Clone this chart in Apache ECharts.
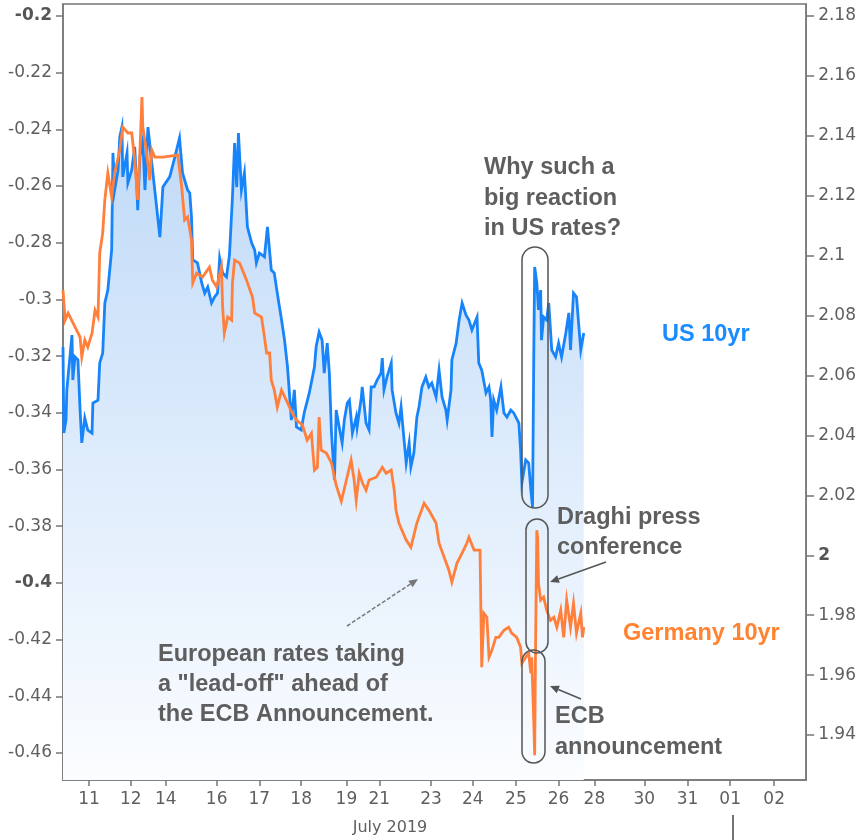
<!DOCTYPE html>
<html>
<head>
<meta charset="utf-8">
<script src="https://cdn.jsdelivr.net/npm/echarts@6/dist/echarts.min.js"></script>
<style>
html,body{margin:0;padding:0;background:#fff;}
#chart{width:859px;height:840px;}
</style>
</head>
<body>
<div id="chart"></div>
<script>
// x positions are in trading-day units from the left edge of the window
const xTickPos = [0.61,1.59,2.41,3.60,4.60,5.58,6.64,7.41,8.62,9.60,10.61,11.61,12.45,13.62,14.63,15.63,16.66];
const xTickLabels = ['11','12','14','16','17','18','19','21','23','24','25','26','28','30','31','01','02'];
const deTicks = [-0.46,-0.44,-0.42,-0.4,-0.38,-0.36,-0.34,-0.32,-0.3,-0.28,-0.26,-0.24,-0.22,-0.2];
const usTicks = [1.94,1.96,1.98,2,2.02,2.04,2.06,2.08,2.1,2.12,2.14,2.16,2.18];

const usPos = [0,0.02,0.07,0.09,0.21,0.23,0.28,0.35,0.40,0.44,0.51,0.58,0.68,0.70,0.82,0.86,0.93,0.98,1.05,1.14,
1.17,1.21,1.29,1.33,1.38,1.40,1.50,1.52,1.61,1.68,1.73,1.75,1.80,1.87,1.92,1.99,2.08,2.15,2.27,2.34,
2.50,2.62,2.73,2.80,2.92,2.97,3.01,3.04,3.15,3.25,3.32,3.39,3.48,3.55,3.62,3.67,3.74,3.83,3.90,3.97,
4.02,4.07,4.11,4.18,4.25,4.32,4.42,4.49,4.53,4.60,4.72,4.79,4.88,4.95,5.02,5.12,5.19,5.26,5.35,5.42,
5.47,5.58,5.65,5.77,5.89,5.93,6.00,6.07,6.12,6.19,6.24,6.29,6.36,6.40,6.47,6.54,6.59,6.66,6.71,6.78,
6.87,6.89,6.99,7.01,7.10,7.17,7.22,7.29,7.36,7.45,7.48,7.52,7.59,7.69,7.71,7.80,7.87,7.92,7.99,8.04,
8.11,8.15,8.22,8.29,8.34,8.41,8.50,8.57,8.64,8.74,8.81,8.88,8.97,9.00,9.09,9.11,9.21,9.28,9.35,9.44,
9.51,9.58,9.70,9.74,9.81,9.91,9.98,10.02,10.05,10.09,10.16,10.26,10.33,10.40,10.49,10.56,10.68,10.72,10.75,10.84,
10.91,10.96,11.00,11.03,11.05,11.10,11.14,11.19,11.21,11.26,11.33,11.38,11.45,11.54,11.61,11.68,11.78,11.85,11.89,11.96,
12.03,12.13,12.20];
const usYield = [2.0695,2.0408,2.0451,2.0552,2.0735,2.0585,2.0662,2.0652,2.0485,2.0375,2.0458,2.0418,2.0408,2.0508,2.0518,2.0642,2.0675,2.0842,2.0885,2.1019,
2.1343,2.1219,2.1286,2.1396,2.1429,2.1263,2.1343,2.1243,2.1286,2.1363,2.1229,2.1152,2.1329,2.1386,2.1219,2.1429,2.1309,2.1219,2.1062,2.1229,
2.1263,2.1329,2.1393,2.1276,2.1219,2.1209,2.1129,2.0986,2.0976,2.0909,2.0875,2.0895,2.0842,2.0862,2.0875,2.0992,2.0942,2.0929,2.1002,2.1196,
2.1376,2.1229,2.1409,2.1219,2.1276,2.1096,2.1042,2.1019,2.0976,2.1009,2.0996,2.1096,2.0952,2.0942,2.0875,2.0785,2.0718,2.0628,2.0451,2.0552,
2.0428,2.0418,2.0475,2.0542,2.0628,2.0695,2.0745,2.0718,2.0608,2.0708,2.0608,2.0408,2.0251,2.0485,2.0428,2.0375,2.0451,2.0508,2.0518,2.0408,
2.0461,2.0428,2.0528,2.0562,2.0441,2.0418,2.0562,2.0562,2.0585,2.0608,2.0658,2.0552,2.0595,2.0642,2.0552,2.0475,2.0441,2.0495,2.0385,2.0308,
2.0375,2.0295,2.0341,2.0461,2.0495,2.0562,2.0595,2.0562,2.0575,2.0528,2.0618,2.0528,2.0485,2.0451,2.0552,2.0652,2.0708,2.0785,2.0842,2.0802,
2.0785,2.0752,2.0795,2.0642,2.0618,2.0542,2.0562,2.0518,2.0395,2.0518,2.0485,2.0562,2.0475,2.0461,2.0485,2.0475,2.0441,2.0351,2.0241,2.0318,
2.0308,2.0218,2.0161,2.0685,2.0962,2.0909,2.0819,2.0885,2.0718,2.0795,2.0785,2.0842,2.0685,2.0662,2.0708,2.0662,2.0742,2.0809,2.0685,2.0875,
2.0862,2.0685,2.0742];

const dePos = [0,0.05,0.12,0.40,0.44,0.51,0.58,0.68,0.75,0.82,0.86,0.93,0.98,1.05,1.14,1.21,1.33,1.40,1.52,1.61,
1.68,1.75,1.80,1.85,1.87,1.96,2.03,2.08,2.15,2.34,2.69,2.78,2.85,2.92,3.01,3.04,3.13,3.27,3.43,3.50,
3.60,3.71,3.74,3.78,3.86,3.95,3.97,4.02,4.14,4.30,4.44,4.49,4.65,4.72,4.77,4.84,4.88,4.95,5.02,5.12,
5.23,5.37,5.47,5.61,5.72,5.82,5.89,5.96,6.00,6.05,6.17,6.29,6.40,6.52,6.64,6.75,6.82,6.87,6.94,7.01,
7.10,7.17,7.34,7.48,7.57,7.69,7.76,7.80,7.87,7.94,8.04,8.15,8.29,8.46,8.57,8.74,8.81,8.93,9.04,9.11,
9.23,9.35,9.46,9.51,9.63,9.77,9.79,9.81,9.86,9.93,9.98,10.05,10.14,10.21,10.33,10.44,10.51,10.63,10.72,10.75,
10.84,10.91,10.96,10.98,11.03,11.05,11.07,11.10,11.12,11.14,11.19,11.26,11.33,11.42,11.50,11.57,11.66,11.73,11.80,11.89,
11.96,12.03,12.13,12.17,12.20];
const deYield = [-0.2967,-0.3073,-0.3048,-0.3133,-0.3203,-0.3143,-0.3168,-0.3119,-0.3038,-0.3062,-0.2836,-0.2766,-0.2649,-0.2554,-0.2639,-0.2554,-0.2473,-0.2392,-0.2413,-0.2413,
-0.2508,-0.2649,-0.2483,-0.2286,-0.2392,-0.2483,-0.2579,-0.2473,-0.2498,-0.2498,-0.2491,-0.2603,-0.2720,-0.2709,-0.2790,-0.2942,-0.2907,-0.2921,-0.2886,-0.2932,
-0.2956,-0.2886,-0.3027,-0.3119,-0.3062,-0.3073,-0.2942,-0.2861,-0.2872,-0.2932,-0.2992,-0.3048,-0.3062,-0.3133,-0.3189,-0.3189,-0.3285,-0.3320,-0.3380,-0.3320,
-0.3355,-0.3401,-0.3426,-0.3443,-0.3496,-0.3472,-0.3602,-0.3592,-0.3415,-0.3532,-0.3542,-0.3577,-0.3655,-0.3712,-0.3637,-0.3567,-0.3637,-0.3708,-0.3613,-0.3645,
-0.3673,-0.3637,-0.3627,-0.3592,-0.3613,-0.3602,-0.3673,-0.3743,-0.3789,-0.3814,-0.3849,-0.3874,-0.3789,-0.3719,-0.3743,-0.3789,-0.3860,-0.3909,-0.3955,-0.3997,
-0.3930,-0.3895,-0.3860,-0.3839,-0.3884,-0.3884,-0.4096,-0.4297,-0.4107,-0.4121,-0.4262,-0.4237,-0.4192,-0.4192,-0.4167,-0.4156,-0.4177,-0.4192,-0.4227,-0.4283,
-0.4262,-0.4248,-0.4319,-0.4262,-0.4495,-0.4608,-0.4237,-0.3814,-0.3839,-0.4001,-0.4061,-0.4050,-0.4096,-0.4132,-0.4121,-0.4156,-0.4096,-0.4192,-0.4061,-0.4156,
-0.4072,-0.4177,-0.4107,-0.4192,-0.4156];

const usData = usPos.map((p, i) => [p, usYield[i]]);
const deData = dePos.map((p, i) => [p, deYield[i]]);

const AXIS = '#777777';
const LABEL = '#5f5f5f';
const NOTE = '#5e5e5e';
const TICKFONT = 'DejaVu Sans';
const NOTEFONT = 'bold 23.5px "Liberation Sans", Arial, sans-serif';
const ZTOP = 100;

function fmt(v) { return String(parseFloat(Number(v).toFixed(2))); }

function arrow(x1, y1, x2, y2, color, dashed) {
  const a = Math.atan2(y2 - y1, x2 - x1), L = 9, W = 4;
  const bx = x2 - L * Math.cos(a), by = y2 - L * Math.sin(a);
  return [
    {type: 'line', silent: true, z: ZTOP, shape: {x1: x1, y1: y1, x2: bx, y2: by},
     style: {stroke: color, lineWidth: 1.5, lineDash: dashed ? [4, 2] : null}},
    {type: 'polygon', silent: true, z: ZTOP, shape: {points: [[x2, y2], [bx + W * Math.sin(a), by - W * Math.cos(a)], [bx - W * Math.sin(a), by + W * Math.cos(a)]]},
     style: {fill: color}}
  ];
}
function note(x, y, text, fill) {
  return {type: 'text', silent: true, z: ZTOP, x: x, y: y,
    style: {text: text, font: NOTEFONT, fill: fill || NOTE, align: 'left', verticalAlign: 'middle'}};
}
function oval(x, y, w, h) {
  return {type: 'rect', silent: true, z: ZTOP, shape: {x: x, y: y, width: w, height: h, r: w / 2},
    style: {fill: null, stroke: '#555555', lineWidth: 1.5}};
}

const chart = echarts.init(document.getElementById('chart'), null, {renderer: 'canvas'});
const option = {
  animation: false,
  backgroundColor: '#ffffff',
  grid: {left: 63, right: 51, top: 4, bottom: 60, show: true, borderColor: AXIS, borderWidth: 1.5, backgroundColor: 'transparent'},
  xAxis: {
    type: 'value', min: 0, max: 17.41,
    axisLine: {show: true, lineStyle: {color: AXIS, width: 1.5}},
    axisTick: {show: true, length: 6, customValues: xTickPos, lineStyle: {color: AXIS, width: 1.5}},
    splitLine: {show: false},
    axisLabel: {
      customValues: xTickPos, color: LABEL, fontFamily: TICKFONT, fontSize: 17, margin: 11,
      formatter: function (v) {
        let best = 0, d = 1e9;
        xTickPos.forEach((p, i) => { if (Math.abs(p - v) < d) { d = Math.abs(p - v); best = i; } });
        return xTickLabels[best];
      }
    }
  },
  yAxis: [
    {
      type: 'value', position: 'left', min: -0.4695, max: -0.1958,
      axisLine: {show: true, lineStyle: {color: AXIS, width: 1.5}},
      axisTick: {show: true, length: 7, customValues: deTicks, lineStyle: {color: AXIS, width: 1.5}},
      splitLine: {show: false},
      axisLabel: {
        customValues: deTicks, color: LABEL, fontFamily: TICKFONT, fontSize: 17, margin: 11,
        formatter: function (v) { const s = fmt(v); return (s === '-0.2' || s === '-0.4') ? '{b|' + s + '}' : s; },
        rich: {b: {fontWeight: 'bold', color: '#555555', fontFamily: TICKFONT, fontSize: 17}}
      }
    },
    {
      type: 'value', position: 'right', min: 1.925, max: 2.184,
      axisLine: {show: true, lineStyle: {color: AXIS, width: 1.5}},
      axisTick: {show: true, length: 8, customValues: usTicks, lineStyle: {color: AXIS, width: 1.5}},
      splitLine: {show: false},
      axisLabel: {
        customValues: usTicks, color: LABEL, fontFamily: TICKFONT, fontSize: 17, margin: 12,
        formatter: function (v) { const s = fmt(v); return s === '2' ? '{b|' + s + '}' : s; },
        rich: {b: {fontWeight: 'bold', color: '#555555', fontFamily: TICKFONT, fontSize: 17}}
      }
    }
  ],
  series: [
    {
      name: 'US 10yr', type: 'line', yAxisIndex: 1, data: usData, showSymbol: false, symbol: 'none',
      lineStyle: {color: '#1784fa', width: 2.8, join: 'miter'},
      areaStyle: {origin: 'start', opacity: 1, color: new echarts.graphic.LinearGradient(0, 0, 0, 1, [
        {offset: 0, color: '#c0daf8'}, {offset: 1, color: '#fbfdff'}])},
      z: 2
    },
    {
      name: 'Germany 10yr', type: 'line', yAxisIndex: 0, data: deData, showSymbol: false, symbol: 'none',
      lineStyle: {color: '#ff7f3b', width: 2.8, join: 'miter'},
      z: 3
    }
  ],
  graphic: [].concat(
    [oval(522, 247, 26, 261), oval(526, 519, 22, 134), oval(522, 650, 23, 113)],
    arrow(606, 562, 550, 582, '#555555', false),
    arrow(581, 699, 550, 686, '#555555', false),
    arrow(347, 626, 418, 579, '#777777', true),
    [
      note(484, 168, 'Why such a'), note(484, 199, 'big reaction'), note(484, 229, 'in US rates?'),
      note(158, 655, 'European rates taking'), note(158, 685, 'a "lead-off" ahead of'), note(158, 715, 'the ECB Announcement.'),
      note(557, 518, 'Draghi press'), note(557, 548, 'conference'),
      note(555, 717, 'ECB'), note(555, 748, 'announcement'),
      note(662, 335, 'US 10yr', '#1a8cff'),
      note(623, 634, 'Germany 10yr', '#ff8330'),
      {type: 'text', silent: true, z: ZTOP, x: 390, y: 828,
       style: {text: 'July 2019', font: '16px "DejaVu Sans"', fill: LABEL, align: 'center', verticalAlign: 'middle'}},
      {type: 'line', silent: true, z: ZTOP, shape: {x1: 733, y1: 815, x2: 733, y2: 840}, style: {stroke: '#444444', lineWidth: 1.5}}
    ]
  )
};
chart.setOption(option);
</script>
</body>
</html>
